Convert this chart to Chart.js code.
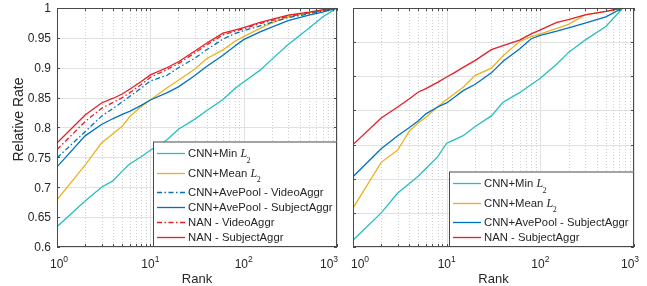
<!DOCTYPE html>
<html>
<head>
<meta charset="utf-8">
<script src="https://cdn.jsdelivr.net/npm/chart.js@4"></script>
<style>
  html, body { margin: 0; padding: 0; background: #fff; }
  #wrap { position: relative; width: 647px; height: 286px; overflow: hidden; }
  #cLeft { position: absolute; left: 0; top: 0; }
  #cRight { position: absolute; left: 342px; top: 0; }
</style>
</head>
<body>
<div id="wrap">
  <canvas id="cLeft" width="350" height="286"></canvas>
  <canvas id="cRight" width="305" height="286"></canvas>
</div>
<script>
// Eixo x (rank) de cada painel
const ranksLeft = [1, 2, 3, 4, 5, 6, 8, 10, 15, 20, 30, 40, 60, 80, 100, 150, 200, 300, 500, 700, 1000];
const ranksRight = [1, 2, 3, 4, 5, 6, 8, 10, 12, 15, 20, 30, 40, 60, 80, 100, 150, 200, 300, 500, 760];

// Painel esquerdo
const leftMinL2 = [0.634, 0.677, 0.700, 0.711, 0.727, 0.739, 0.751, 0.762, 0.779, 0.797, 0.814, 0.828, 0.847, 0.865, 0.876, 0.896, 0.914, 0.939, 0.966, 0.985, 1.0];
const leftMeanL2 = [0.679, 0.737, 0.774, 0.790, 0.802, 0.818, 0.835, 0.846, 0.866, 0.879, 0.898, 0.915, 0.930, 0.944, 0.952, 0.966, 0.975, 0.985, 0.992, 0.997, 1.0];
const leftAveVideo = [0.749, 0.793, 0.819, 0.832, 0.843, 0.852, 0.866, 0.878, 0.887, 0.900, 0.916, 0.930, 0.948, 0.957, 0.962, 0.970, 0.976, 0.984, 0.990, 0.995, 1.0];
const leftAveSubject = [0.734, 0.786, 0.805, 0.815, 0.822, 0.827, 0.837, 0.846, 0.858, 0.868, 0.887, 0.902, 0.921, 0.936, 0.947, 0.960, 0.968, 0.979, 0.988, 0.993, 1.0];
const leftNanVideo = [0.763, 0.810, 0.832, 0.842, 0.850, 0.858, 0.872, 0.884, 0.897, 0.907, 0.925, 0.938, 0.955, 0.961, 0.965, 0.974, 0.979, 0.986, 0.992, 0.996, 1.0];
const leftNanSubject = [0.774, 0.821, 0.841, 0.849, 0.856, 0.864, 0.877, 0.888, 0.900, 0.910, 0.928, 0.941, 0.958, 0.963, 0.967, 0.976, 0.981, 0.988, 0.993, 0.997, 1.0];

// Painel direito
const rightMinL2 = [0.660, 0.700, 0.729, 0.743, 0.754, 0.765, 0.782, 0.802, 0.807, 0.813, 0.826, 0.842, 0.862, 0.876, 0.888, 0.897, 0.918, 0.935, 0.953, 0.973, 1.0];
const rightMeanL2 = [0.707, 0.774, 0.792, 0.820, 0.832, 0.840, 0.855, 0.866, 0.874, 0.884, 0.901, 0.912, 0.930, 0.951, 0.958, 0.962, 0.970, 0.976, 0.990, 0.995, 1.0];
const rightAveSubject = [0.753, 0.794, 0.813, 0.825, 0.835, 0.845, 0.855, 0.861, 0.869, 0.879, 0.888, 0.905, 0.922, 0.940, 0.955, 0.960, 0.966, 0.971, 0.978, 0.987, 1.0];
const rightNanSubject = [0.800, 0.839, 0.855, 0.867, 0.877, 0.882, 0.891, 0.899, 0.905, 0.913, 0.923, 0.939, 0.945, 0.953, 0.962, 0.968, 0.979, 0.983, 0.990, 0.995, 1.0];

const xMajorTicks = [1, 10, 100, 1000];
const xTickExp = ["0", "1", "2", "3"];
const yTicksLeft = [0.6, 0.65, 0.7, 0.75, 0.8, 0.85, 0.9, 0.95, 1];
const yTicksRight = [0.65, 0.7, 0.75, 0.8, 0.85, 0.9, 0.95, 1];

const COR = { ciano: "#26bfbf", amarelo: "#edb120", azul: "#0072bd", vermelho: "#e41f26" };
const TRACO_PONTO = [5, 2.5, 1.5, 2.5];
const TXT = "#262626";
const FONTE = '"Liberation Sans", Arial, sans-serif';

function serie(label, ranks, vals, cor, ordem, dash) {
  return {
    label,
    data: ranks.map((r, i) => ({ x: r, y: vals[i] })),
    borderColor: cor,
    backgroundColor: cor,
    borderWidth: 1.3,
    borderDash: dash || [],
    pointRadius: 0,
    tension: 0,
    fill: false,
    order: ordem
  };
}

function ticksMenores() {
  const t = [];
  xMajorTicks.forEach((m, i) => {
    t.push(m);
    if (i < xMajorTicks.length - 1) for (let k = 2; k <= 9; k++) t.push(m * k);
  });
  return t;
}

function linha(ctx, x1, y1, x2, y2) {
  ctx.beginPath(); ctx.moveTo(x1, y1); ctx.lineTo(x2, y2); ctx.stroke();
}

function textoLegenda(ctx, txt, x, y) {
  const temL2 = txt.endsWith(" L_2");
  const base = temL2 ? txt.slice(0, -4) + " " : txt;
  ctx.fillStyle = TXT;
  ctx.textAlign = "left";
  ctx.textBaseline = "alphabetic";
  ctx.font = "11.3px " + FONTE;
  ctx.fillText(base, x, y + 4);
  if (temL2) {
    const w = ctx.measureText(base).width;
    ctx.font = 'italic 12px "Liberation Serif", serif';
    ctx.fillText("L", x + w, y + 4);
    const wl = ctx.measureText("L").width;
    ctx.font = '8px "Liberation Serif", serif';
    ctx.fillText("2", x + w + wl - 0.5, y + 9.5);
  }
}

const pluginPainel = {
  id: "painel",
  beforeDatasetsDraw(chart, args, opts) {
    const { ctx, chartArea: a, scales: { x, y } } = chart;
    ctx.save();
    ctx.lineWidth = 1;
    ctx.strokeStyle = "#e2e2e2";
    opts.yTicks.forEach(v => {
      const py = Math.round(y.getPixelForValue(v)) + 0.5;
      linha(ctx, a.left, py, a.right, py);
    });
    x.ticks.forEach(t => {
      const px = Math.round(x.getPixelForValue(t.value)) + 0.5;
      if (xMajorTicks.includes(t.value)) {
        ctx.setLineDash([]); ctx.strokeStyle = "#e2e2e2";
      } else {
        ctx.setLineDash([1, 2]); ctx.strokeStyle = "#cfcfcf";
      }
      linha(ctx, px, a.top, px, a.bottom);
    });
    ctx.restore();
  },
  afterDraw(chart, args, opts) {
    const { ctx, chartArea: a, scales: { x, y } } = chart;
    ctx.save();
    // moldura e marcas
    ctx.strokeStyle = "#4a4a4a";
    ctx.lineWidth = 1;
    ctx.setLineDash([]);
    ctx.strokeRect(a.left + 0.5, a.top + 0.5, a.right - a.left - 1, a.bottom - a.top - 1);
    x.ticks.forEach(t => {
      const px = Math.round(x.getPixelForValue(t.value)) + 0.5;
      linha(ctx, px, a.bottom, px, a.bottom - 3);
      linha(ctx, px, a.top, px, a.top + 3);
    });
    opts.yTicks.forEach(v => {
      const py = Math.round(y.getPixelForValue(v)) + 0.5;
      linha(ctx, a.left, py, a.left + 3, py);
      linha(ctx, a.right, py, a.right - 3, py);
    });

    // rótulos do eixo x (10^k)
    ctx.fillStyle = TXT;
    ctx.textBaseline = "alphabetic";
    xMajorTicks.forEach((v, i) => {
      let px = x.getPixelForValue(v);
      if (i === 0) px += opts.desloc[0];
      if (i === xMajorTicks.length - 1) px += opts.desloc[1];
      ctx.font = "12px " + FONTE;
      const wb = ctx.measureText("10").width;
      ctx.font = "8.5px " + FONTE;
      const we = ctx.measureText(xTickExp[i]).width;
      const x0 = px - (wb + we) / 2;
      ctx.textAlign = "left";
      ctx.font = "12px " + FONTE;
      ctx.fillText("10", x0, a.bottom + 21);
      ctx.font = "8.5px " + FONTE;
      ctx.fillText(xTickExp[i], x0 + wb, a.bottom + 15);
    });
    ctx.font = "13px " + FONTE;
    ctx.textAlign = "center";
    ctx.fillText("Rank", (a.left + a.right) / 2, a.bottom + 36);

    if (opts.rotulosY) {
      ctx.font = "12px " + FONTE;
      ctx.textAlign = "right";
      opts.yTicks.forEach(v => {
        const py = y.getPixelForValue(v);
        ctx.fillText(String(parseFloat(v.toFixed(2))), a.left - 6, py + 4.3);
      });
      ctx.save();
      ctx.translate(18, (a.top + a.bottom) / 2 - 8);
      ctx.rotate(-Math.PI / 2);
      ctx.font = "14px " + FONTE;
      ctx.textAlign = "center";
      ctx.fillText("Relative Rate", 0, 5);
      ctx.restore();
    }

    // legenda
    const ds = chart.data.datasets;
    const gaps = ds.map(d => d.label.endsWith(" L_2") ? 19.5 : 15);
    let altura = 11.5 + 10;
    for (let i = 0; i < ds.length - 1; i++) altura += gaps[i];
    const lx = a.left + 96, lTop = a.bottom - altura;
    ctx.fillStyle = "#fff";
    ctx.fillRect(lx, lTop, a.right - lx, altura);
    ctx.strokeStyle = "#4a4a4a";
    ctx.strokeRect(lx + 0.5, lTop + 0.5, a.right - lx - 1, altura - 1);
    let cy = lTop + 11.5;
    ds.forEach((d, i) => {
      ctx.strokeStyle = d.borderColor;
      ctx.lineWidth = 1.3;
      ctx.setLineDash(d.borderDash || []);
      linha(ctx, lx + 4, Math.round(cy) + 0.5, lx + 32, Math.round(cy) + 0.5);
      ctx.setLineDash([]);
      textoLegenda(ctx, d.label, lx + 35, cy);
      cy += gaps[i];
    });
    ctx.restore();
  }
};

function criarPainel(id, datasets, yMin, yTicks, larguraY, padDir, rotulosY, desloc) {
  return new Chart(document.getElementById(id), {
    type: "line",
    data: { datasets },
    options: {
      responsive: false,
      animation: false,
      layout: { padding: { top: 8, right: padDir, left: 0, bottom: 0 } },
      plugins: {
        legend: { display: false },
        tooltip: { enabled: false },
        painel: { yTicks, rotulosY, desloc }
      },
      scales: {
        x: {
          type: "logarithmic", min: 1, max: 1000,
          ticks: { display: false },
          grid: { display: false },
          border: { display: false },
          afterBuildTicks: s => { s.ticks = ticksMenores().map(v => ({ value: v })); },
          afterFit: s => { s.height = 39; }
        },
        y: {
          type: "linear", min: yMin, max: 1,
          ticks: { display: false },
          grid: { display: false },
          border: { display: false },
          afterFit: s => { s.width = larguraY; }
        }
      }
    },
    plugins: [pluginPainel]
  });
}

criarPainel("cLeft", [
  serie("CNN+Min L_2", ranksLeft, leftMinL2, COR.ciano, 5),
  serie("CNN+Mean L_2", ranksLeft, leftMeanL2, COR.amarelo, 4),
  serie("CNN+AvePool - VideoAggr", ranksLeft, leftAveVideo, COR.azul, 3, TRACO_PONTO),
  serie("CNN+AvePool - SubjectAggr", ranksLeft, leftAveSubject, COR.azul, 2),
  serie("NAN - VideoAggr", ranksLeft, leftNanVideo, COR.vermelho, 1, TRACO_PONTO),
  serie("NAN - SubjectAggr", ranksLeft, leftNanSubject, COR.vermelho, 0)
], 0.6, yTicksLeft, 57, 13, true, [2, -8]);

criarPainel("cRight", [
  serie("CNN+Min L_2", ranksRight, rightMinL2, COR.ciano, 3),
  serie("CNN+Mean L_2", ranksRight, rightMeanL2, COR.amarelo, 2),
  serie("CNN+AvePool - SubjectAggr", ranksRight, rightAveSubject, COR.azul, 1),
  serie("NAN - SubjectAggr", ranksRight, rightNanSubject, COR.vermelho, 0)
], 0.65, yTicksRight, 11, 13, false, [7, -4]);
</script>
</body>
</html>
